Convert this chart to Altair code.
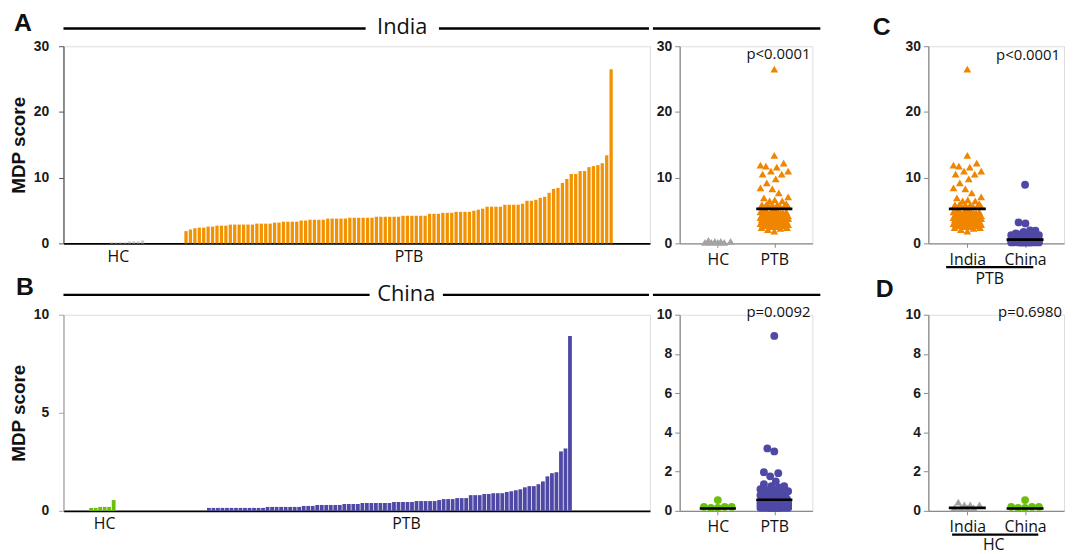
import math
import altair as alt
import pandas as pd

# ---------------- data ----------------
groups = ["HC", "PTB"]
countries = ["India", "China"]

india_hc = [0.15, 0.15, 0.15, 0.15, 0.3, 0.3, 0.3, 0.45]
india_ptb = [
    1.86, 2.1, 2.3, 2.4, 2.4, 2.56, 2.56, 2.7, 2.7, 2.7,
    2.86, 2.86, 2.86, 2.86, 2.86, 2.86, 3.0, 3.0, 3.0, 3.0,
    3.16, 3.16, 3.3, 3.3, 3.3, 3.3, 3.47, 3.47, 3.6, 3.6,
    3.6, 3.6, 3.77, 3.77, 3.77, 3.77, 3.77, 3.9, 3.9,
    3.9, 3.9, 3.9, 3.9, 4.05, 4.05, 4.05, 4.05, 4.05, 4.05,
    4.2, 4.2, 4.2, 4.2, 4.2, 4.2, 4.5, 4.5, 4.5, 4.65,
    4.65, 4.65, 4.8, 4.8, 4.8, 4.8, 4.97, 5.13, 5.28, 5.58,
    5.58, 5.58, 5.58, 5.88, 5.88, 5.88, 5.88, 6.03, 6.48, 6.48,
    6.63, 6.93, 7.09, 7.69, 8.29, 8.44, 9.2, 9.8, 10.55, 10.55,
    11.0, 11.0, 11.6, 11.76, 11.9, 12.2, 13.4, 26.5,
]
china_hc = [0.15, 0.15, 0.2, 0.2, 0.2, 0.55]
china_ptb = [
    0.15, 0.15, 0.15, 0.15, 0.15, 0.15, 0.15, 0.15, 0.15, 0.15,
    0.15, 0.15, 0.15, 0.2, 0.2, 0.2, 0.2, 0.2, 0.2, 0.2,
    0.2, 0.25, 0.25, 0.25, 0.3, 0.3, 0.3, 0.3, 0.3, 0.3,
    0.35, 0.35, 0.35, 0.35, 0.4, 0.4, 0.4, 0.4, 0.4, 0.4,
    0.4, 0.45, 0.45, 0.45, 0.45, 0.45, 0.5, 0.5, 0.5, 0.5,
    0.5, 0.55, 0.6, 0.6, 0.6, 0.65, 0.65, 0.65, 0.8, 0.8,
    0.8, 0.86, 0.86, 0.9, 0.9, 0.9, 0.96, 1.0, 1.05, 1.1,
    1.2, 1.26, 1.26, 1.36, 1.5, 1.76, 1.92, 1.97, 3.03, 3.18,
    8.92,
]
# horizontal centre lines drawn by the original figure
center_lines = {"India HC": 0.15, "India PTB": 5.25, "China HC": 0.12, "China PTB": 0.57}
p_texts = {"A": "p<0.0001", "B": "p=0.0092", "C": "p<0.0001", "D": "p=0.6980"}

# ---------------- style ----------------
BOLD = "Liberation Sans"
TXT = "Open Sans"
ORANGE_BAR = "#F39200"
ORANGE_PT = "#F08500"
PURPLE = "#4F49A6"
GREEN = "#6CBF0B"
GRAY_BAR = "#CDCDCD"
GRAY_PT = "#A3A3A3"
PADX = 0.675
one = pd.DataFrame({"k": [0]})


def swarm_offsets(values, ppu, d, max_half, k=1.0):
    """Deterministic beeswarm: spread points sideways so that their (anisotropic)
    distance stays at least d pixels, within +-max_half pixels."""
    order = sorted(range(len(values)), key=lambda i: values[i])
    placed = []
    offs = [0.0] * len(values)
    grid = [g * 0.5 for g in range(-int(max_half * 2), int(max_half * 2) + 1)]
    for i in order:
        y = values[i] * ppu
        near = [(px, py) for px, py in placed if abs(py - y) * k < d]
        cands = set(grid)
        for px, py in near:
            dx = math.sqrt(max(d * d - ((py - y) * k) ** 2, 0))
            for c in (px + dx, px - dx):
                if abs(c) <= max_half:
                    cands.add(round(c, 4))
        best, bestkey = 0.0, None
        for c in sorted(cands):
            mind = min((math.hypot(c - px, (y - py) * k) for px, py in near), default=1e9)
            ok = mind >= d - 1e-6
            key = (0, abs(c), c) if ok else (1, -mind, abs(c))
            if bestkey is None or key < bestkey:
                best, bestkey = c, key
        offs[i] = best
        placed.append((best, y))
    return offs


def deco_rule(x1, x2, y, sw=2.5, color="#000"):
    return alt.Chart(one).mark_rule(color=color, strokeWidth=sw).encode(
        x=alt.value(x1), x2=alt.value(x2), y=alt.value(y))


def deco_text(txt, x, y, size, font=TXT, weight="normal", align="center", baseline="top"):
    return alt.Chart(one).mark_text(text=txt, font=font, fontSize=size, fontWeight=weight,
                                    align=align, baseline=baseline, color="#111").encode(
        x=alt.value(x), y=alt.value(y))


def dummy(w):
    return alt.Chart(one).mark_rule(strokeOpacity=0, opacity=0).encode(
        x=alt.value(w / 2), y=alt.value(-35), y2=alt.value(0))


def bar_panel(hc, ptb, hc_col, ptb_col, hc_start, ptb_start, frac, n_slots, label_slots,
              ymax, yticks, w, h, yaxis_col, letter, lxy, country, hy, gap):
    rows = []
    for i, v in enumerate(hc):
        rows.append({"x0": hc_start + i, "x1": hc_start + i + frac, "v": v, "z": 0, "c": hc_col})
    for i, v in enumerate(ptb):
        rows.append({"x0": ptb_start + i, "x1": ptb_start + i + frac, "v": v, "z": 0, "c": ptb_col})
    df = pd.DataFrame(rows)
    lbl = f"datum.value < {label_slots[0] + 5} ? '{groups[0]}' : '{groups[1]}'"
    bars = alt.Chart(df).mark_bar().encode(
        x=alt.X("x0:Q", scale=alt.Scale(domain=[0, n_slots], nice=False, zero=False),
                axis=alt.Axis(values=label_slots, labelExpr=lbl, ticks=False, domainColor="#000",
                              domainWidth=1.8, labelFont=TXT, labelFontSize=16, labelColor="#111",
                              labelPadding=5, title=None, grid=False, labelOverlap=False,
                              labelFlush=False)),
        x2="x1:Q",
        y=alt.Y("v:Q", scale=alt.Scale(domain=[0, ymax], nice=False),
                axis=alt.Axis(values=yticks, title="MDP score", titleFont=BOLD, titleFontSize=19,
                              titleFontWeight="bold", titleColor="#111", titlePadding=4.4,
                              labelFont=BOLD, labelFontWeight="bold", labelFontSize=14,
                              labelColor="#1a1a1a", labelPadding=10, tickSize=5,
                              domainColor=yaxis_col, tickColor=yaxis_col, domainWidth=1.3,
                              grid=False)),
        y2="z:Q",
        color=alt.Color("c:N", scale=None),
    )
    return alt.layer(
        bars,
        deco_rule(0, gap[0], hy),
        deco_rule(gap[1], w - 1, hy),
        deco_text(country, (gap[0] + gap[1]) / 2, hy - 1, 22, baseline="middle"),
        deco_text(letter, lxy[0], lxy[1], 25, font=BOLD, weight="bold", align="left"),
        dummy(w),
    ).properties(width=w, height=h)


def scatter_panel(series, labels, ymax, yticks, w, h, ptxt, pxy, extras):
    ppu = h / ymax
    unit_px = w / (1 + 2 * PADX)
    rows, lines = [], []
    for gi, (vals, shape, col, center, d, k) in enumerate(series):
        offs = swarm_offsets(vals, ppu, d, 14, k)
        for v, o in zip(vals, offs):
            rows.append({"xp": gi + o / unit_px, "v": v, "shape": shape, "c": col})
        if center is not None:
            lines.append({"xp": gi - 0.32, "xp2": gi + 0.32, "v": center})
    lbl = f"datum.value < 0.5 ? '{labels[0]}' : '{labels[1]}'"
    xenc = alt.X("xp:Q", scale=alt.Scale(domain=[-PADX, 1 + PADX], nice=False, zero=False),
                 axis=alt.Axis(values=[0, 1], labelExpr=lbl, tickSize=4, tickColor="#8a8a8a",
                               domainColor="#8a8a8a", domainWidth=1.3, labelFont=TXT,
                               labelFontSize=16, labelColor="#111", labelPadding=4, title=None,
                               grid=False, labelOverlap=False, labelFlush=False))
    yenc = alt.Y("v:Q", scale=alt.Scale(domain=[0, ymax], nice=False),
                 axis=alt.Axis(values=yticks, title=None, labelFont=BOLD, labelFontWeight="bold",
                               labelFontSize=14, labelColor="#1a1a1a", labelPadding=3, tickSize=5,
                               domainColor="#8a8a8a", tickColor="#8a8a8a", domainWidth=1.3,
                               grid=False))
    pts = alt.Chart(pd.DataFrame(rows)).mark_point(filled=True, opacity=1, size=62).encode(
        x=xenc, y=yenc,
        shape=alt.Shape("shape:N", scale=None),
        color=alt.Color("c:N", scale=None),
    )
    layers = [pts]
    if lines:
        layers.append(alt.Chart(pd.DataFrame(lines)).mark_rule(color="#000", strokeWidth=2.6).encode(
            x=xenc, x2="xp2:Q", y=yenc))
    layers.append(deco_text(ptxt, pxy[0], pxy[1], 15, align="right"))
    layers += extras
    layers.append(dummy(w))
    return alt.layer(*layers).properties(width=w, height=h)


# ---------------- panels ----------------
WB, HA, HB = 592, 199, 198
WS, WC = 134, 137

barA = bar_panel(india_hc, india_ptb, GRAY_BAR, ORANGE_BAR, 10.5, 27.3, 0.74, 592 / 4.47,
                 [12.3, 77.9], 30, [0, 10, 20, 30], WB, HA, "#555555", "A", (-50, -35),
                 countries[0], -18, (305, 379))
barB = bar_panel(china_hc, china_ptb, GREEN, PURPLE, 5.7, 31.8, 0.84, 592 / 4.556,
                 [9.0, 75.9], 10, [0, 5, 10], WB, HB, "#a6a6a6", "B", (-48, -40),
                 countries[1], -20, (309, 383))

scA = scatter_panel(
    [(india_hc, "triangle-up", GRAY_PT, None, 6.5, 1.0),
     (india_ptb, "triangle-up", ORANGE_PT, center_lines["India PTB"], 6.5, 0.55)],
    groups, 30, [0, 10, 20, 30], WS, HA, p_texts["A"], (132, 1),
    [deco_rule(-27, 142, -18)])
scB = scatter_panel(
    [(china_hc, "circle", GREEN, center_lines["China HC"], 7, 1.0),
     (china_ptb, "circle", PURPLE, center_lines["China PTB"], 7, 0.8)],
    groups, 10, [0, 2, 4, 6, 8, 10], WS, HB, p_texts["B"], (132, -10),
    [deco_rule(-27, 142, -20)])

pC = scatter_panel(
    [(india_ptb, "triangle-up", ORANGE_PT, center_lines["India PTB"], 6.5, 0.55),
     (china_ptb, "circle", PURPLE, center_lines["China PTB"], 7, 0.8)],
    countries, 30, [0, 10, 20, 30], WC, HA, p_texts["C"], (133, 2),
    [deco_rule(18, 106, HA + 24, sw=2.2),
     deco_text(groups[1], 62, HA + 28, 16),
     deco_text("C", -56, -31, 25, font=BOLD, weight="bold", align="left")])
pD = scatter_panel(
    [(india_hc, "triangle-up", GRAY_PT, center_lines["India HC"], 6.5, 1.0),
     (china_hc, "circle", GREEN, center_lines["China HC"], 7, 1.0)],
    countries, 10, [0, 2, 4, 6, 8, 10], WC, HB, p_texts["D"], (135, -10),
    [deco_rule(24, 111, HB + 24, sw=2.2),
     deco_text(groups[0], 66, HB + 27, 16),
     deco_text("D", -53, -38, 25, font=BOLD, weight="bold", align="left")])

col0 = alt.vconcat(barA, barB, spacing=72, bounds="flush")
col1 = alt.vconcat(scA, scB, spacing=72, bounds="flush")
col2 = alt.vconcat(pC, pD, spacing=72, bounds="flush")

chart = alt.hconcat(alt.hconcat(col0, col1, spacing=0), col2, spacing=50).properties(
    padding={"left": 1, "top": 0, "right": 5, "bottom": 0}
).configure_view(stroke=None).configure(background="white")

chart.save("out.html", embed_options={"renderer": "svg", "actions": False})
